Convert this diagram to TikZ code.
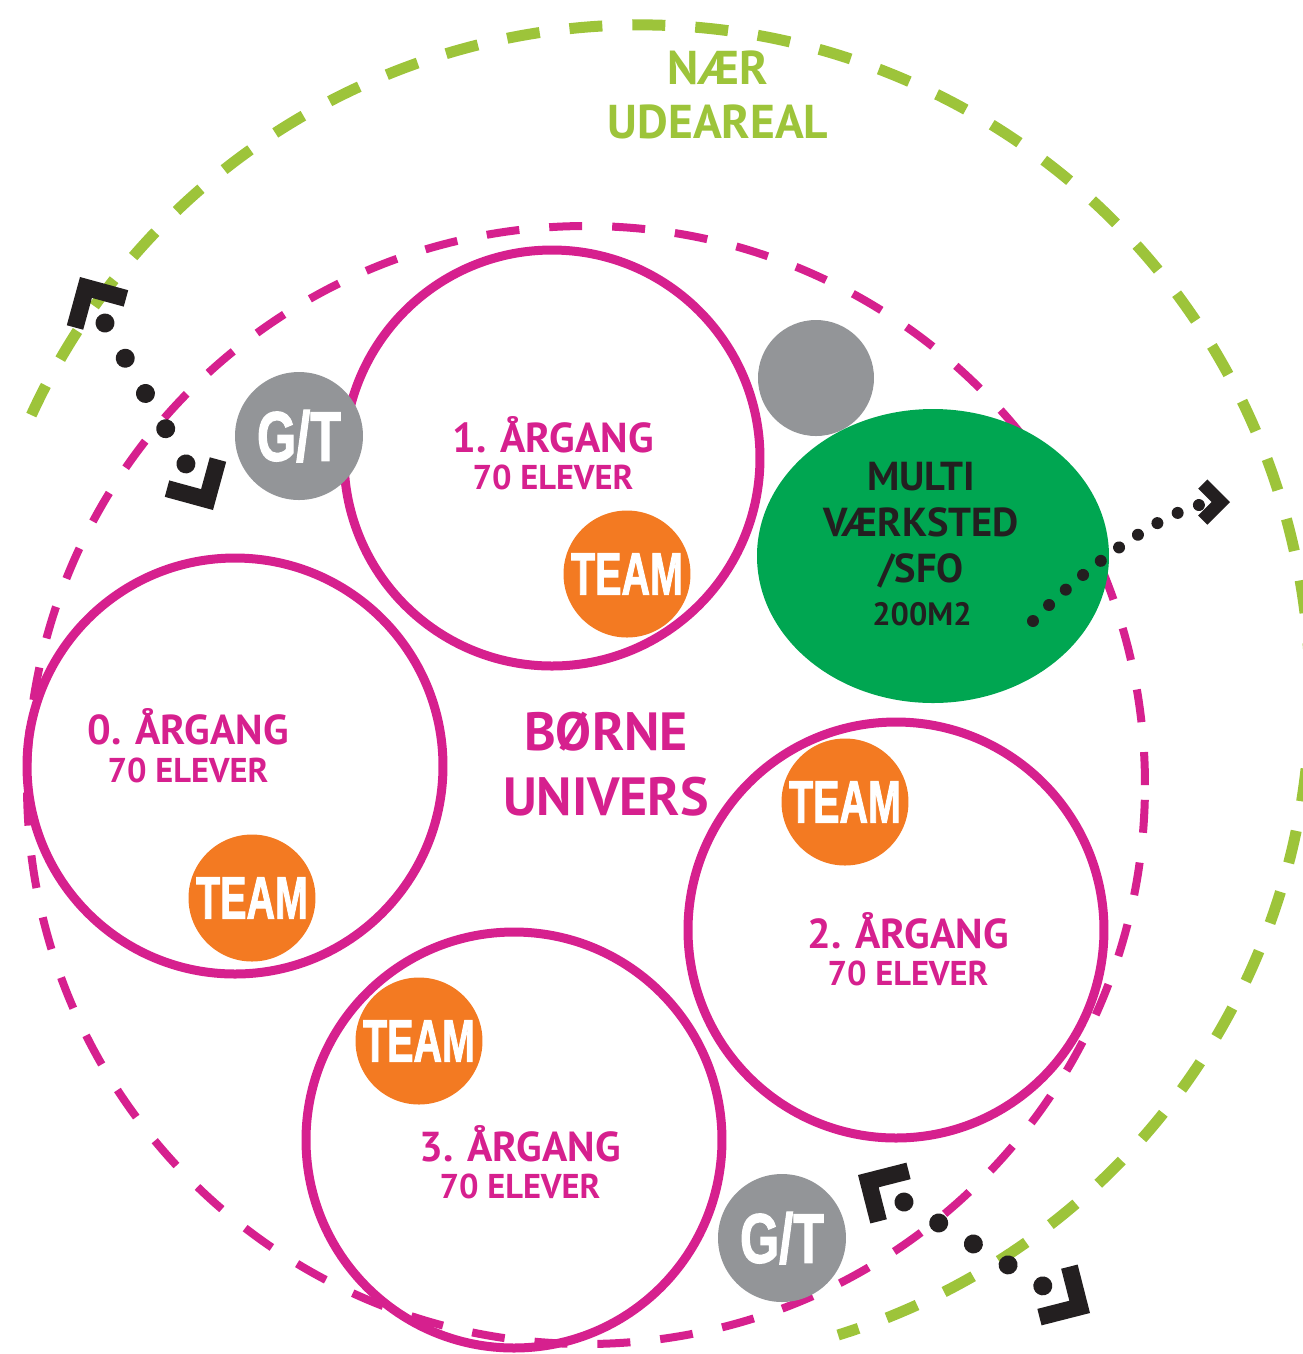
\documentclass[tikz,border=0pt]{standalone}
\usepackage{fontspec}
\usepackage{graphicx}
\setmainfont{PT Sans}
\newfontfamily\heavyfont[BoldFeatures={FakeBold=2}]{Liberation Sans}
\usetikzlibrary{shapes.geometric,decorations.markings}
\definecolor{mag}{RGB}{214,32,142}
\definecolor{lgreen}{RGB}{157,196,58}
\definecolor{dgreen}{RGB}{0,166,81}
\definecolor{orng}{RGB}{243,122,34}
\definecolor{gry}{RGB}{147,149,152}
\definecolor{blk}{RGB}{35,31,32}
\newcommand\fsz[1]{\fontsize{#1pt}{#1pt}\selectfont\bfseries}
\newcommand\Lmark[6]{\fill[blk, shift={(#1,#2)}, rotate=#3] (0,0) -- (#4,0) -- (#4,#5) -- (#5,#5) -- (#5,#4) -- (0,#4) -- cycle;}
\tikzset{
  greenarc/.style={draw=lgreen, line width=1.1mm, dash pattern=on 3.3mm off 3.0mm},
  magring/.style={circle, draw=mag, line width=0.8mm, dash pattern=on 3.3mm off 3.0mm, inner sep=0},
  grade/.style={circle, draw=mag, line width=0.9mm, minimum size=4.16cm, inner sep=0},
  teamc/.style={circle, fill=orng, minimum size=1.27cm, inner sep=0, text=white, font=\heavyfont\bfseries\fontsize{17pt}{17pt}\selectfont},
  gtc/.style={circle, fill=gry, minimum size=1.28cm, inner sep=0, text=white, font=\heavyfont\bfseries\fontsize{19.9pt}{20pt}\selectfont},
  lbl/.style={anchor=base, inner sep=0, text=mag},
  dlbl/.style={anchor=base, inner sep=0, text=blk},
  glbl/.style={anchor=base, inner sep=0, text=lgreen},
  bigdots/.style={postaction={decorate}, decoration={markings, mark=between positions 0 and 1 step 0.2499 with {\fill[blk] (0,0) circle (0.95mm);}}},
  smalldots/.style={postaction={decorate}, decoration={markings, mark=between positions 0 and 1 step 0.1111 with {\fill[blk] (0,0) circle (0.6mm);}}}
}
\begin{document}
\begin{tikzpicture}[x=0.1mm, y=-0.1mm]
\useasboundingbox (0,0) rectangle (1303,1354);
% outer green arc (near outdoor area)
\coordinate (oc) at (640,695);
\draw[greenarc] ([shift={(155.3:67mm)}]oc) arc[start angle=155.3, end angle=-72.8, radius=67mm];
% inner magenta ring
\node[magring, minimum size=11.18cm] (inner) at (586,785) {};
% grade circles
\node[grade] (c1) at (552,458) {};
\node[grade] (c0) at (235,766) {};
\node[grade] (c2) at (896,930) {};
\node[grade] (c3) at (514,1140) {};
% other shapes
\node[circle, fill=gry, minimum size=1.16cm, inner sep=0] (gray) at (816,378) {};
\node[ellipse, fill=dgreen, minimum width=3.52cm, minimum height=2.94cm, inner sep=0] (multi) at (933,556) {};
\node[gtc] (gt1) at (299,436) {\scalebox{0.72}[1]{G/T}};
\node[gtc] (gt2) at (782,1238) {\scalebox{0.72}[1]{G/T}};
\node[teamc] (tm1) at (627,574) {\scalebox{0.66}[1]{TEAM}};
\node[teamc] (tm0) at (252,898) {\scalebox{0.66}[1]{TEAM}};
\node[teamc] (tm2) at (845,802) {\scalebox{0.66}[1]{TEAM}};
\node[teamc] (tm3) at (419,1041) {\scalebox{0.66}[1]{TEAM}};
% texts
\node[glbl, font=\fsz{13.5}] (naer) at (718,84) {NÆR};
\node[glbl, font=\fsz{13.5}] (ude) at (718,138) {UDEAREAL};
\node[lbl, font=\fsz{15.3}] (borne) at (606,750) {BØRNE};
\node[lbl, font=\fsz{15.3}] (univ) at (606,815) {UNIVERS};
\node[lbl, font=\fsz{11.9}] (g1a) at (553,452) {1. ÅRGANG};
\node[lbl, font=\fsz{9.8}] (g1b) at (553,489) {70 ELEVER};
\node[lbl, font=\fsz{11.9}] (g0a) at (188,744) {0. ÅRGANG};
\node[lbl, font=\fsz{9.8}] (g0b) at (188,782) {70 ELEVER};
\node[lbl, font=\fsz{11.9}] (g2a) at (908,948) {2. ÅRGANG};
\node[lbl, font=\fsz{9.8}] (g2b) at (908,985) {70 ELEVER};
\node[lbl, font=\fsz{11.9}] (g3a) at (520,1161) {3. ÅRGANG};
\node[lbl, font=\fsz{9.8}] (g3b) at (520,1198) {70 ELEVER};
\node[dlbl, font=\fsz{11.5}] (m1) at (921,490) {MULTI};
\node[dlbl, font=\fsz{11.5}] (m2) at (921,536) {VÆRKSTED};
\node[dlbl, font=\fsz{11.5}] (m3) at (921,582) {/SFO};
\node[dlbl, font=\fsz{9.2}] (m4) at (922,625) {200M2};
% markers
\coordinate (a1) at (105,323); \coordinate (a2) at (186,464);
\coordinate (b1) at (904,1202); \coordinate (b2) at (1043,1286);
\coordinate (e1) at (1033,621); \coordinate (e2) at (1199,505);
\path[bigdots] (a1) -- (a2);
\path[bigdots] (b1) -- (b2);
\path[smalldots] (e1) .. controls (1075,577) and (1149,519) .. (e2);
\Lmark{80}{277}{-15.3}{50}{17}{}
\Lmark{213}{510}{164.7}{50}{17}{}
\Lmark{858}{1175}{14.3}{50}{17}{}
\Lmark{1090}{1313}{-165.7}{50}{17}{}
\Lmark{1230}{502}{-135}{32}{13}{}
\end{tikzpicture}
\end{document}
